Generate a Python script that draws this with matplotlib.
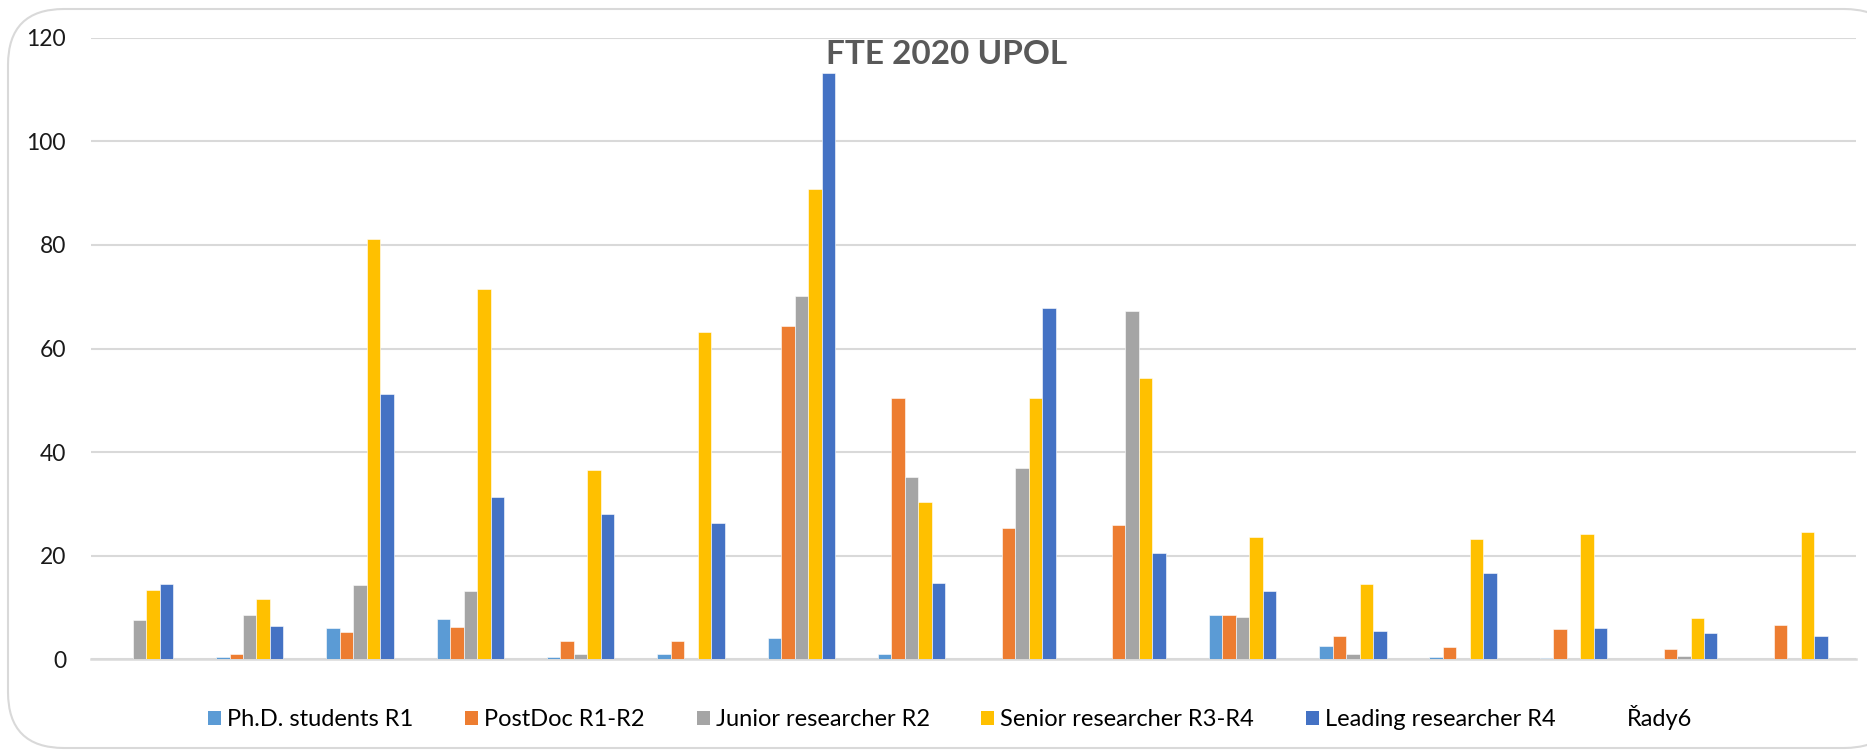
import matplotlib
matplotlib.use("Agg")
import matplotlib.pyplot as plt
from matplotlib.patches import FancyBboxPatch, Patch
import numpy as np

plt.rcParams['font.family'] = ['Lato', 'DejaVu Sans']

categories = [str(i) for i in range(1, 17)]
series_names = ["Ph.D. students R1", "PostDoc R1-R2", "Junior researcher R2",
                "Senior researcher R3-R4", "Leading researcher R4", "Řady6"]
phd = [0, 0.5, 6.0, 7.7, 0.45, 1.0, 4.2, 1.0, 0, 0, 8.6, 2.5, 0.45, 0.25, 0, 0.1]
postdoc = [0, 1.0, 5.2, 6.3, 3.6, 3.6, 64.4, 50.5, 25.4, 25.9, 8.5, 4.5, 2.3, 5.9, 1.9, 6.6]
junior = [7.6, 8.5, 14.3, 13.2, 1.0, 0, 70.1, 35.1, 37.0, 67.2, 8.1, 1.0, 0, 0, 0.65, 0]
senior = [13.4, 11.6, 81.1, 71.4, 36.5, 63.1, 90.8, 30.4, 50.4, 54.4, 23.7, 14.5, 23.2, 24.2, 8.0, 24.6]
leading = [14.5, 6.4, 51.3, 31.4, 28.1, 26.3, 113.1, 14.8, 67.9, 20.5, 13.2, 5.5, 16.6, 6.0, 5.1, 4.5]
rady6 = [0] * 16
yticks = [0, 20, 40, 60, 80, 100, 120]

colors = ["#5B9BD5", "#ED7D31", "#A5A5A5", "#FFC000", "#4472C4", "none"]
all_series = [phd, postdoc, junior, senior, leading, rady6]

W, H = 1867, 753
fig = plt.figure(figsize=(W / 100, H / 100), dpi=100)

# rounded chart border
border = FancyBboxPatch((8 / W, 5 / H), (1900 - 8) / W, (744 - 5) / H,
                        boxstyle="round,pad=0,rounding_size=0.03",
                        transform=fig.transFigure, facecolor="white",
                        edgecolor="#D9D9D9", linewidth=1.5, zorder=-10,
                        mutation_aspect=W / H)
fig.patches.append(border)

ax = fig.add_axes([91 / W, 93.7 / H, (1856 - 91) / W, (715.3 - 93.7) / H])
ax.set_facecolor("none")
ax.set_zorder(1)

n = len(all_series)
w = 1 / (n + 2.19)
x = np.arange(len(categories))
for j, (vals, c) in enumerate(zip(all_series, colors)):
    if c == "none":
        continue
    ax.bar(x + (j - (n - 1) / 2) * w, vals, width=w, color=c,
           edgecolor="white", linewidth=0.4, zorder=3)

ax.set_xlim(-0.5, len(categories) - 0.5)
ax.set_ylim(0, 120)
ax.set_yticks(yticks)
ax.set_yticklabels([str(t) for t in yticks], fontsize=16.5, color="#1a1a1a")
ax.tick_params(axis="y", length=0, pad=18)
ax.set_xticks([])
ax.grid(axis="y", color="#D9D9D9", linewidth=1.5, zorder=0)
for s in ["top", "right", "left"]:
    ax.spines[s].set_visible(False)
ax.spines["bottom"].set_color("#D9D9D9")
ax.spines["bottom"].set_linewidth(1.8)

fig.text(947 / W, 1 - 55 / H, "FTE 2020 UPOL", ha="center", va="center",
         fontsize=24, fontweight="bold", color="#595959", zorder=5)

handles = [Patch(facecolor=c, edgecolor="none") for c in colors]
fig.legend(handles, series_names, loc="center", ncol=6, frameon=False,
           bbox_to_anchor=(950 / W, 35 / H), fontsize=17,
           handlelength=0.55, handleheight=0.55, handletextpad=0.25,
           columnspacing=2.2)

fig.savefig("out.png", dpi=100)
